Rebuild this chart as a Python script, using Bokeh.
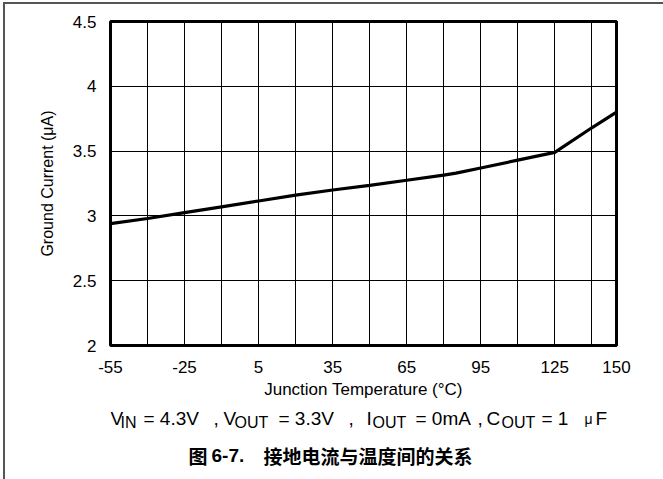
from bokeh.plotting import figure
from bokeh.models import FixedTicker, Range1d
from bokeh.layouts import column
from bokeh.embed import file_html
from bokeh.resources import INLINE
from bokeh.core.properties import value

# ---- data ----
temps = [-55, -40, -25, -10, 5, 20, 35, 50, 65, 80, 85, 95, 110, 125, 140, 150]
ground_current = [2.94, 2.98, 3.025, 3.07, 3.115, 3.16, 3.20, 3.235, 3.275, 3.315,
                  3.33, 3.37, 3.43, 3.49, 3.68, 3.80]
x_ticks = [-55, -25, 5, 35, 65, 95, 125, 150]
x_tick_labels = ["-55", "-25", "5", "35", "65", "95", "125", "150"]
x_grid = [-40, -25, -10, 5, 20, 35, 50, 65, 80, 95, 110, 125, 140]
y_ticks = [2, 2.5, 3, 3.5, 4, 4.5]
x_title = "Junction Temperature (°C)"
y_title = "Ground Current (μA)"

# condition line: text pieces (main size / subscript)
cond_main = ["V", "= 4.3V", ",", "V", "= 3.3V", ",", "I", "= 0mA", ",", "C", "= 1", "F"]
cond_sub = ["IN", "OUT", "OUT", "OUT"]
cond_mu = ["μ"]
caption_cjk = ["图", "接地电流与温度间的关系"]
caption_latin = ["6-7."]

# ---- layout (page pixels) ----
OFF_X, OFF_Y = 5, 4
FL, FR, FT, FB = 110, 616, 21, 345
SPLIT = 405
W = 663 - OFF_X
H1 = SPLIT - OFF_Y
H2 = 479 - SPLIT
FONT = "Liberation Sans"
CJK = "Noto Sans CJK SC"

main_x = [110, 143, 213, 223, 278, 348, 366, 415, 477, 486, 541, 595]
sub_x = [120, 234, 372, 501]
mu_x = [584]
cjk_x = [188, 263]
latin_x = [211]
BASE_MAIN, BASE_SUB, BASE_CAP = 418, 422, 455

p = figure(width=W, height=H1, output_backend="svg", toolbar_location=None,
           x_range=Range1d(-55, 150), y_range=Range1d(2, 4.5),
           min_border_left=FL - OFF_X, min_border_right=W - (FR - OFF_X),
           min_border_top=FT - OFF_Y, min_border_bottom=H1 - (FB - OFF_Y),
           background_fill_color="white", border_fill_color="white")

p.outline_line_color = "black"
p.outline_line_width = 3
p.outline_line_alpha = 1

for ax in (p.xaxis, p.yaxis):
    ax.axis_line_color = None
    ax.major_tick_line_color = None
    ax.minor_tick_line_color = None
    ax.major_label_text_font = FONT
    ax.major_label_text_font_size = "17px"
    ax.major_label_text_color = "black"
    ax.axis_label_text_font = FONT
    ax.axis_label_text_font_style = "normal"
    ax.axis_label_text_color = "black"

p.xaxis.ticker = FixedTicker(ticks=x_ticks)
p.xaxis.major_label_overrides = dict(zip(x_ticks, x_tick_labels))
p.yaxis.ticker = FixedTicker(ticks=y_ticks)
p.xaxis.major_label_standoff = 9
p.yaxis.major_label_standoff = 8
p.xaxis.axis_label = x_title
p.yaxis.axis_label = y_title
p.xaxis.axis_label_text_font_size = "17px"
p.yaxis.axis_label_text_font_size = "16px"
p.xaxis.axis_label_standoff = 4
p.yaxis.axis_label_standoff = 14

p.xgrid.ticker = FixedTicker(ticks=x_grid)
p.ygrid.ticker = FixedTicker(ticks=y_ticks[1:-1])
for g in (p.xgrid, p.ygrid):
    g.grid_line_color = "black"
    g.grid_line_width = 1
    g.grid_line_alpha = 1

p.line(temps, ground_current, line_color="black", line_width=3.2)

# ---- text strip below (its frame is aligned with the chart frame: page x FL..FR) ----
t = figure(width=W, height=H2, output_backend="svg", toolbar_location=None,
           x_range=Range1d(FL, FR), y_range=Range1d(H2, 0),
           min_border_left=0, min_border_right=0,
           min_border_top=0, min_border_bottom=0,
           x_axis_type=None, y_axis_type=None,
           background_fill_color="white", border_fill_color="white")
t.outline_line_color = None
t.grid.visible = False


def sy(py, n):
    return [py - SPLIT] * n


t.text(main_x, sy(BASE_MAIN, len(cond_main)), text=cond_main, text_font=value(FONT),
       text_font_size="19px", text_align="left", text_baseline="alphabetic",
       text_color="black")
t.text(sub_x, sy(BASE_SUB, len(cond_sub)), text=cond_sub, text_font=value(FONT),
       text_font_size="16px", text_align="left", text_baseline="alphabetic",
       text_color="black")
t.text(mu_x, sy(BASE_MAIN, 1), text=cond_mu, text_font=value(FONT),
       text_font_size="14px", text_align="left", text_baseline="alphabetic",
       text_color="black")
t.text(cjk_x, sy(BASE_CAP, len(caption_cjk)), text=caption_cjk, text_font=value(CJK),
       text_font_size="19px", text_font_style="bold", text_align="left",
       text_baseline="alphabetic", text_color="black")
t.text(latin_x, sy(BASE_CAP, 1), text=caption_latin, text_font=value(FONT),
       text_font_size="19px", text_font_style="bold", text_align="left",
       text_baseline="alphabetic", text_color="black")

layout = column(p, t, spacing=0)
layout.margin = (2, 0, 0, 3)
layout.styles = {"border-top": "2px solid #555555", "border-left": "2px solid #555555"}

open("out.html", "w").write(file_html(layout, INLINE))
